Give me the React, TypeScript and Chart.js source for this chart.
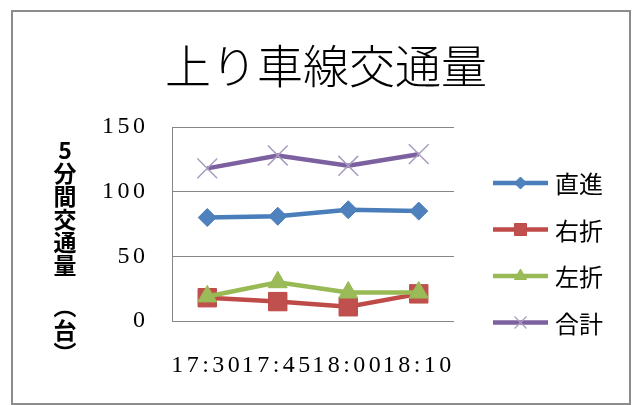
import React, { useEffect, useRef } from "react";
import { Chart, registerables } from "chart.js";

Chart.register(...registerables);

// Chart text
const TITLE = "上り車線交通量";
const Y_TITLE = "5分間交通量（台）";

// Categories (time of day)
const TIMES = ["17:30", "17:45", "18:00", "18:10"];

// Series names and 5-minute vehicle counts
const SERIES_NAMES = ["直進", "右折", "左折", "合計"];
const STRAIGHT = [80, 81, 86, 85];
const RIGHT_TURN = [18, 15, 11, 21];
const LEFT_TURN = [19, 30, 22, 22];
const TOTAL = [118, 128, 120, 129];

// Value axis
const Y_MIN = 0;
const Y_MAX = 150;
const Y_STEP = 50;

const JP_SANS = "'Noto Sans CJK JP', 'Noto Sans', sans-serif";
const NUM_SERIF = "'Liberation Serif', 'DejaVu Serif', serif";

type Marker = "rectRot" | "rect" | "triangle" | "crossRot";

function drawMarker(
  ctx: CanvasRenderingContext2D,
  style: Marker,
  x: number,
  y: number,
  r: number,
  fill: string,
  stroke: string,
  lw: number
) {
  ctx.save();
  ctx.beginPath();
  if (style === "rectRot") {
    ctx.moveTo(x - r, y);
    ctx.lineTo(x, y - r);
    ctx.lineTo(x + r, y);
    ctx.lineTo(x, y + r);
    ctx.closePath();
  } else if (style === "rect") {
    ctx.rect(x - r, y - r, 2 * r, 2 * r);
  } else if (style === "triangle") {
    ctx.moveTo(x, y - r);
    ctx.lineTo(x + r * 0.866, y + r * 0.5);
    ctx.lineTo(x - r * 0.866, y + r * 0.5);
    ctx.closePath();
  } else {
    ctx.moveTo(x - r, y - r);
    ctx.lineTo(x + r, y + r);
    ctx.moveTo(x + r, y - r);
    ctx.lineTo(x - r, y + r);
  }
  if (style !== "crossRot") {
    ctx.fillStyle = fill;
    ctx.fill();
  }
  ctx.strokeStyle = stroke;
  ctx.lineWidth = lw;
  ctx.stroke();
  ctx.restore();
}

const LEGEND_MARKERS: { style: Marker; r: number; lw: number }[] = [
  { style: "rectRot", r: 6, lw: 1 },
  { style: "rect", r: 6, lw: 1 },
  { style: "triangle", r: 7, lw: 1 },
  { style: "crossRot", r: 6, lw: 1.2 },
];

const decorations = {
  id: "decorations",
  beforeDraw(chart: any) {
    const ctx: CanvasRenderingContext2D = chart.ctx;
    ctx.save();
    ctx.fillStyle = "#ffffff";
    ctx.fillRect(0, 0, chart.width, chart.height);
    ctx.restore();
    // wider spacing for the serif tick labels
    (ctx as any).letterSpacing = "3.5px";
  },
  afterDraw(chart: any) {
    const ctx: CanvasRenderingContext2D = chart.ctx;
    ctx.save();
    (ctx as any).letterSpacing = "0px";

    // outer frame
    ctx.strokeStyle = "#8c8c8c";
    ctx.lineWidth = 2;
    ctx.strokeRect(12, 11, 618, 393);

    // title
    ctx.fillStyle = "#000000";
    ctx.font = `300 46px ${JP_SANS}`;
    ctx.textAlign = "center";
    ctx.textBaseline = "middle";
    ctx.fillText(TITLE, 326, 66);

    // vertical axis title, one character per row
    ctx.font = `700 23px ${JP_SANS}`;
    const chars = Array.from(Y_TITLE);
    chars.forEach((ch, i) => {
      const y = 150 + i * 23 + (i >= 6 ? 19 : 0);
      ctx.save();
      ctx.translate(65, y);
      if (ch === "（" || ch === "）") ctx.rotate(Math.PI / 2);
      ctx.fillText(ch, 0, 0);
      ctx.restore();
    });

    // legend
    ctx.font = `400 24px ${JP_SANS}`;
    ctx.textAlign = "left";
    chart.data.datasets.forEach((ds: any, i: number) => {
      const y = 183 + i * 46.5;
      ctx.strokeStyle = ds.borderColor;
      ctx.lineWidth = 4.5;
      ctx.beginPath();
      ctx.moveTo(493, y);
      ctx.lineTo(548, y);
      ctx.stroke();
      const m = LEGEND_MARKERS[i];
      drawMarker(ctx, m.style, 520.5, y, m.r, ds.pointBackgroundColor, ds.pointBorderColor, m.lw);
      ctx.fillStyle = "#000000";
      ctx.fillText(ds.label, 555, y + 1);
    });
    ctx.restore();
  },
};

export default function App() {
  const canvasRef = useRef<HTMLCanvasElement | null>(null);

  useEffect(() => {
    if (!canvasRef.current) return;
    const chart = new Chart(canvasRef.current, {
      type: "line",
      data: {
        labels: TIMES,
        datasets: [
          {
            label: SERIES_NAMES[0],
            data: STRAIGHT,
            borderColor: "#4A7EBB",
            borderWidth: 4.5,
            pointStyle: "rectRot",
            pointRadius: 9,
            pointBackgroundColor: "#4F81BD",
            pointBorderColor: "#4A7EBB",
            pointBorderWidth: 1,
            order: 4,
          },
          {
            label: SERIES_NAMES[1],
            data: RIGHT_TURN,
            borderColor: "#BE4B48",
            borderWidth: 4.5,
            pointStyle: "rect",
            pointRadius: 13,
            pointBackgroundColor: "#C0504D",
            pointBorderColor: "#BE4B48",
            pointBorderWidth: 1,
            order: 3,
          },
          {
            label: SERIES_NAMES[2],
            data: LEFT_TURN,
            borderColor: "#98B954",
            borderWidth: 4.5,
            pointStyle: "triangle",
            pointRadius: 11,
            pointBackgroundColor: "#9BBB59",
            pointBorderColor: "#98B954",
            pointBorderWidth: 1,
            order: 2,
          },
          {
            label: SERIES_NAMES[3],
            data: TOTAL,
            borderColor: "#7D60A0",
            borderWidth: 4.5,
            pointStyle: "crossRot",
            pointRadius: 14,
            pointBackgroundColor: "#A99CC0",
            pointBorderColor: "#A99CC0",
            pointBorderWidth: 1.5,
            order: 1,
          },
        ],
      },
      options: {
        responsive: false,
        animation: false,
        devicePixelRatio: 1,
        layout: { padding: { top: 127, right: 183, left: 0, bottom: 0 } },
        plugins: {
          legend: { display: false },
          title: { display: false },
          tooltip: { enabled: false },
        },
        elements: { line: { tension: 0 } },
        scales: {
          x: {
            offset: true,
            grid: { display: false, drawTicks: false },
            border: { display: false },
            ticks: {
              color: "#000000",
              font: { family: NUM_SERIF, size: 24 },
              padding: 30,
              maxRotation: 0,
              minRotation: 0,
              autoSkip: false,
            },
            afterFit: (scale: any) => {
              scale.height = 84;
            },
          },
          y: {
            min: Y_MIN,
            max: Y_MAX,
            grid: { color: "#868686", lineWidth: 1, drawTicks: false },
            border: { display: true, color: "#868686", width: 1 },
            ticks: {
              stepSize: Y_STEP,
              color: "#000000",
              font: { family: NUM_SERIF, size: 24 },
              padding: 23.5,
            },
            afterFit: (scale: any) => {
              scale.width = 172;
            },
          },
        },
      },
      plugins: [decorations],
    });
    return () => chart.destroy();
  }, []);

  return (
    <div style={{ position: "fixed", left: 0, top: 0, width: 637, height: 405, background: "#fff" }}>
      <canvas ref={canvasRef} width={637} height={405} style={{ display: "block" }} />
    </div>
  );
}
